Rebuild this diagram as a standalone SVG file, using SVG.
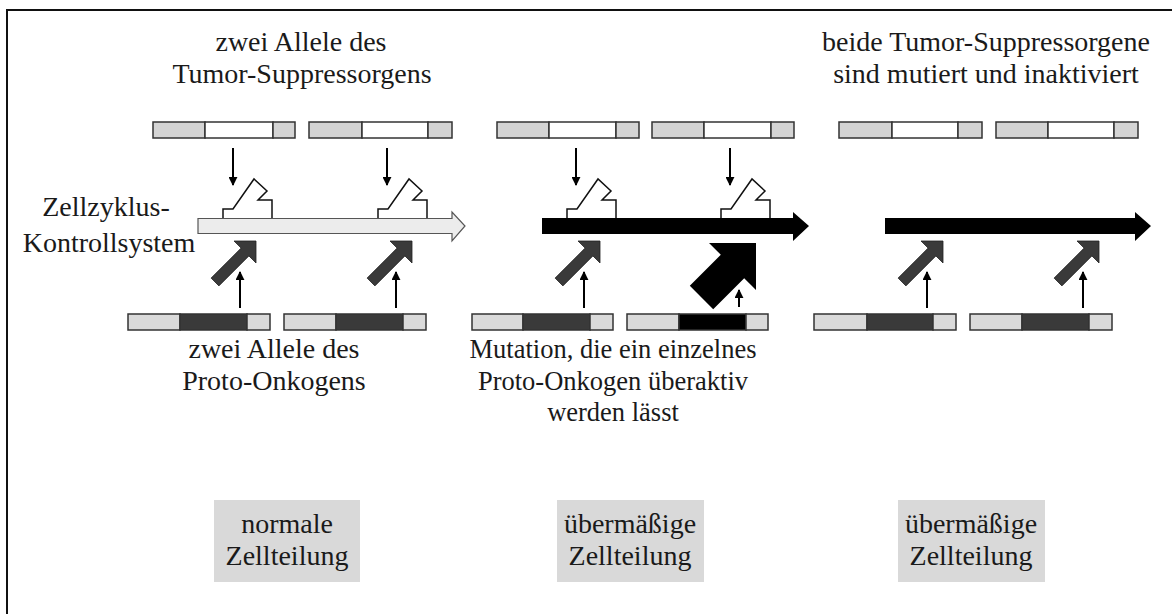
<svg xmlns="http://www.w3.org/2000/svg" width="1172" height="614" viewBox="0 0 1172 614">
<style>
text{font-size:28px;fill:#1a1a1a;text-anchor:middle}
.sm{font-size:26.5px}
.seg{stroke:#333;stroke-width:1.5}
.lg{fill:#d4d4d4}
.lb{fill:#dadada}
.wh{fill:#fff}
.dk{fill:#3a3a3a}
.bk{fill:#000}
.rec{fill:#fff;stroke:#111;stroke-width:1.5}
.ln{stroke:#000;stroke-width:2;fill:none}
.box{fill:#d9d9d9}
</style>
<defs>
<marker id="ah" viewBox="0 0 10 10" refX="9" refY="5" markerWidth="9" markerHeight="9" markerUnits="userSpaceOnUse" orient="auto">
<path d="M0,0 L10,5 L0,10 z" fill="#000"/>
</marker>
<path id="darr" d="M0,0 L0,22 L-7.1,14.9 L-37.1,44.9 L-44.9,37.1 L-14.9,7.1 L-22,0 Z" fill="#3a3a3a" stroke="#222" stroke-width="0.8"/>
<path id="barr" d="M0,0 L0,47 L-11.8,35.2 L-42.8,66.2 L-66.2,42.8 L-35.2,11.8 L-47,0 Z" fill="#000"/>
<path id="rec" d="M0,18 L0,9 L10,9 L31,-21 L44,-9 L35,0 L49,0 L49,18" class="rec"/>
</defs>

<rect x="7" y="10" width="1180" height="620" fill="none" stroke="#111" stroke-width="2"/>

<g font-family="'Liberation Serif', 'Times New Roman', Times, 'DejaVu Serif', serif">
<g id="label-top-left">
<text x="301" y="51">zwei Allele des</text>
<text x="302" y="83">Tumor-Suppressorgens</text>
</g>
<g id="label-top-right">
<text x="986" y="51">beide Tumor-Suppressorgene</text>
<text x="986" y="83">sind mutiert und inaktiviert</text>
</g>
<g id="label-zellzyklus">
<text x="106" y="216">Zellzyklus-</text>
<text x="109" y="252">Kontrollsystem</text>
</g>
<g id="label-bottom-left">
<text x="274" y="358">zwei Allele des</text>
<text x="274" y="390">Proto-Onkogens</text>
</g>
<g id="label-bottom-mid" class="sm">
<text class="sm" x="613" y="358">Mutation, die ein einzelnes</text>
<text class="sm" x="613" y="390">Proto-Onkogen überaktiv</text>
<text class="sm" x="613" y="421">werden lässt</text>
</g>
</g>

<g id="main-arrow-1">
<path d="M198,218.5 L452,218.5 L452,212 L465,226 L452,241 L452,233.5 L198,233.5 Z" fill="#ececec" stroke="#555" stroke-width="1.2"/>
</g>
<g id="main-arrow-2">
<path d="M542,218 L793,218 L793,212 L809,226 L793,241 L793,234 L542,234 Z" fill="#000"/>
</g>
<g id="main-arrow-3">
<path d="M885,218 L1135,218 L1135,212 L1151,226 L1135,241 L1135,234 L885,234 Z" fill="#000"/>
</g>

<g id="receptor-1"><use href="#rec" x="223" y="200"/></g>
<g id="receptor-2"><use href="#rec" x="378" y="200"/></g>
<g id="receptor-3"><use href="#rec" x="567" y="200"/></g>
<g id="receptor-4"><use href="#rec" x="721" y="200"/></g>

<g id="ts-gene-1">
<rect class="seg lg" x="153" y="122" width="52" height="16"/><rect class="seg wh" x="205" y="122" width="68" height="16"/><rect class="seg lg" x="273" y="122" width="22" height="16"/>
</g>
<g id="ts-gene-2">
<rect class="seg lg" x="309" y="122" width="53" height="16"/><rect class="seg wh" x="362" y="122" width="66" height="16"/><rect class="seg lg" x="428" y="122" width="24" height="16"/>
</g>
<g id="ts-gene-3">
<rect class="seg lg" x="497" y="122" width="52" height="16"/><rect class="seg wh" x="549" y="122" width="67" height="16"/><rect class="seg lg" x="616" y="122" width="23" height="16"/>
</g>
<g id="ts-gene-4">
<rect class="seg lg" x="652" y="122" width="52" height="16"/><rect class="seg wh" x="704" y="122" width="67" height="16"/><rect class="seg lg" x="771" y="122" width="23" height="16"/>
</g>
<g id="ts-gene-5">
<rect class="seg lg" x="839" y="122" width="53" height="16"/><rect class="seg wh" x="892" y="122" width="66" height="16"/><rect class="seg lg" x="958" y="122" width="24" height="16"/>
</g>
<g id="ts-gene-6">
<rect class="seg lg" x="996" y="122" width="52" height="16"/><rect class="seg wh" x="1048" y="122" width="66" height="16"/><rect class="seg lg" x="1114" y="122" width="24" height="16"/>
</g>

<g id="po-gene-1">
<rect class="seg lb" x="128" y="314" width="52" height="16"/><rect class="seg dk" x="180" y="314" width="67" height="16"/><rect class="seg lb" x="247" y="314" width="23" height="16"/>
</g>
<g id="po-gene-2">
<rect class="seg lb" x="284" y="314" width="52" height="16"/><rect class="seg dk" x="336" y="314" width="67" height="16"/><rect class="seg lb" x="403" y="314" width="23" height="16"/>
</g>
<g id="po-gene-3">
<rect class="seg lb" x="472" y="314" width="51" height="16"/><rect class="seg dk" x="523" y="314" width="67" height="16"/><rect class="seg lb" x="590" y="314" width="23" height="16"/>
</g>
<g id="po-gene-4">
<rect class="seg lb" x="627" y="314" width="52" height="16"/><rect class="seg bk" x="679" y="314" width="67" height="16"/><rect class="seg lb" x="746" y="314" width="22" height="16"/>
</g>
<g id="po-gene-5">
<rect class="seg lb" x="814" y="314" width="53" height="16"/><rect class="seg dk" x="867" y="314" width="66" height="16"/><rect class="seg lb" x="933" y="314" width="23" height="16"/>
</g>
<g id="po-gene-6">
<rect class="seg lb" x="970" y="314" width="52" height="16"/><rect class="seg dk" x="1022" y="314" width="67" height="16"/><rect class="seg lb" x="1089" y="314" width="23" height="16"/>
</g>

<g id="act-1"><use href="#darr" x="256" y="241"/></g>
<g id="act-2"><use href="#darr" x="412" y="241"/></g>
<g id="act-3"><use href="#darr" x="600" y="241"/></g>
<g id="act-4"><use href="#barr" x="756" y="243"/></g>
<g id="act-5"><use href="#darr" x="943" y="241"/></g>
<g id="act-6"><use href="#darr" x="1099" y="241"/></g>

<g id="connectors">
<line class="ln" x1="233" y1="148" x2="233" y2="185" marker-end="url(#ah)"/>
<line class="ln" x1="387" y1="148" x2="387" y2="185" marker-end="url(#ah)"/>
<line class="ln" x1="576" y1="148" x2="576" y2="185" marker-end="url(#ah)"/>
<line class="ln" x1="730" y1="148" x2="730" y2="185" marker-end="url(#ah)"/>
<line class="ln" x1="240" y1="308" x2="240" y2="272" marker-end="url(#ah)"/>
<line class="ln" x1="396" y1="308" x2="396" y2="272" marker-end="url(#ah)"/>
<line class="ln" x1="584" y1="308" x2="584" y2="272" marker-end="url(#ah)"/>
<line class="ln" x1="739" y1="307" x2="739" y2="290" marker-end="url(#ah)"/>
<line class="ln" x1="927" y1="308" x2="927" y2="272" marker-end="url(#ah)"/>
<line class="ln" x1="1083" y1="308" x2="1083" y2="272" marker-end="url(#ah)"/>
</g>

<g id="result-1" font-family="'Liberation Serif', 'Times New Roman', Times, 'DejaVu Serif', serif">
<rect class="box" x="214" y="500" width="146" height="82"/>
<text x="287" y="533">normale</text>
<text x="287" y="565">Zellteilung</text>
</g>
<g id="result-2" font-family="'Liberation Serif', 'Times New Roman', Times, 'DejaVu Serif', serif">
<rect class="box" x="557" y="500" width="147" height="82"/>
<text x="630" y="533">übermäßige</text>
<text x="630" y="565">Zellteilung</text>
</g>
<g id="result-3" font-family="'Liberation Serif', 'Times New Roman', Times, 'DejaVu Serif', serif">
<rect class="box" x="898" y="500" width="147" height="82"/>
<text x="971" y="533">übermäßige</text>
<text x="971" y="565">Zellteilung</text>
</g>
</svg>
